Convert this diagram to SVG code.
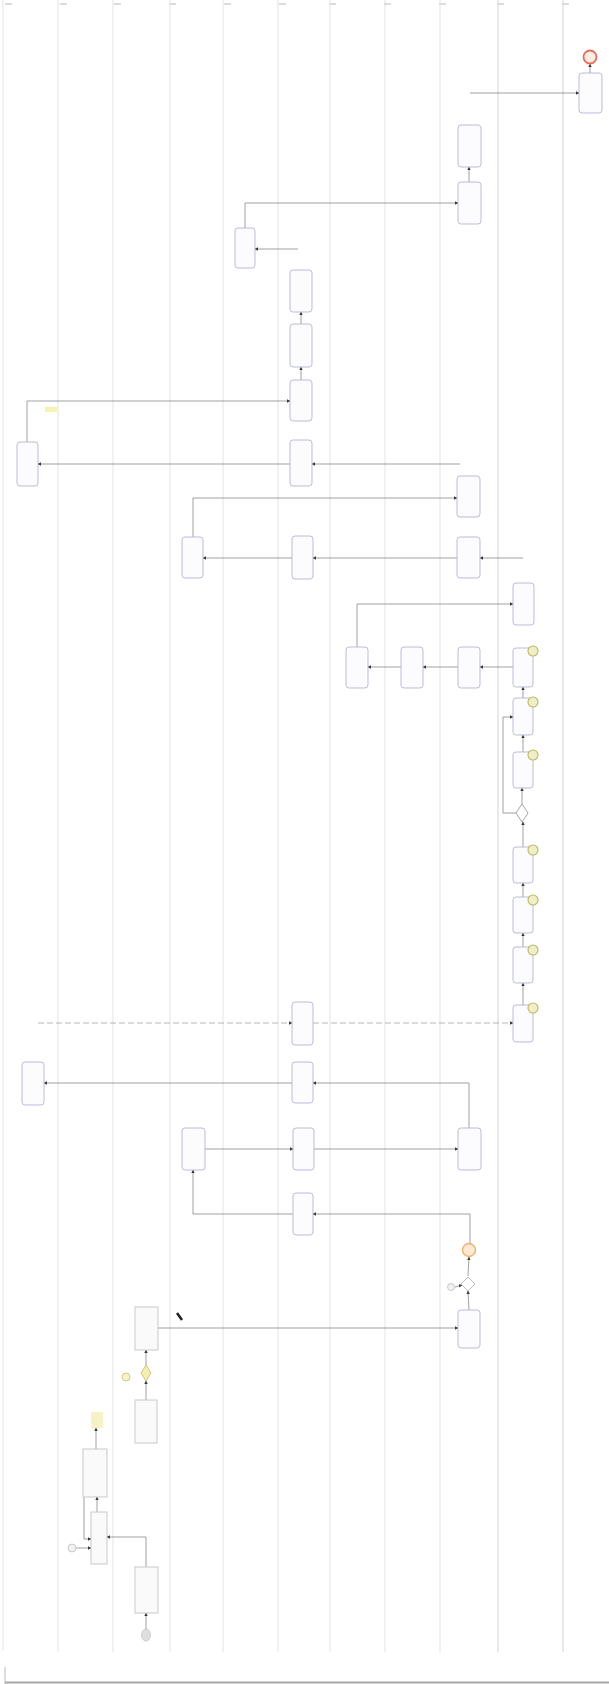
<svg xmlns="http://www.w3.org/2000/svg" width="609" height="1684" viewBox="0 0 609 1684">
<style>
.lane{stroke:#e3e3e8;stroke-width:1;fill:none}
.lane2{stroke:#d2d3da;stroke-width:1;fill:none}
.task{fill:#fcfcfe;stroke:#b3b5d2;stroke-width:0.9}
.gtask{fill:#fafafa;stroke:#c4c4c4;stroke-width:0.9}
.flow{fill:none;stroke:#7a7a7a;stroke-width:0.7;marker-end:url(#arr)}
.dash{fill:none;stroke:#9a9a9a;stroke-width:0.7;stroke-dasharray:6 3;marker-end:url(#arr)}
.bnd{fill:#eeedcc;stroke:#bdb85a;stroke-width:1.1}
.tick{fill:#dcdcdc}
</style>
<defs>
<marker id="arr" viewBox="0 0 10 10" refX="9" refY="5" markerWidth="5" markerHeight="5" orient="auto">
<path d="M0,0 L10,5 L0,10 z" fill="#3a3a3a"/>
</marker>
</defs>
<rect width="609" height="1684" fill="#ffffff"/>
<g id="lanes">
<line class="lane" x1="3" y1="0" x2="3" y2="1650"/>
<line class="lane" x1="58" y1="0" x2="58" y2="1652"/>
<line class="lane" x1="113" y1="0" x2="113" y2="1652"/>
<line class="lane" x1="170" y1="0" x2="170" y2="1652"/>
<line class="lane" x1="223" y1="0" x2="223" y2="1652"/>
<line class="lane" x1="278" y1="0" x2="278" y2="1652"/>
<line class="lane" x1="330" y1="0" x2="330" y2="1652"/>
<line class="lane" x1="385" y1="0" x2="385" y2="1652"/>
<line class="lane" x1="440" y1="0" x2="440" y2="1652"/>
<line class="lane2" x1="498" y1="0" x2="498" y2="1652"/>
<line class="lane2" x1="563" y1="0" x2="563" y2="1652"/>
<rect class="tick" x="5" y="3" width="7" height="2"/>
<rect class="tick" x="60" y="3" width="7" height="2"/>
<rect class="tick" x="114" y="3" width="7" height="2"/>
<rect class="tick" x="169" y="3" width="7" height="2"/>
<rect class="tick" x="224" y="3" width="7" height="2"/>
<rect class="tick" x="279" y="3" width="7" height="2"/>
<rect class="tick" x="329" y="3" width="7" height="2"/>
<rect class="tick" x="384" y="3" width="7" height="2"/>
<rect class="tick" x="439" y="3" width="7" height="2"/>
<rect class="tick" x="497" y="3" width="7" height="2"/>
<rect class="tick" x="562" y="3" width="7" height="2"/>
<line x1="5" y1="1667" x2="5" y2="1684" stroke="#bbbbbb" stroke-width="1"/>
<line x1="5" y1="1682.5" x2="609" y2="1682.5" stroke="#a8a8a8" stroke-width="2"/>
</g>
<g id="connectors">
<path class="flow" d="M590,73 L590,64"/>
<path class="flow" d="M470,93 L579,93"/>
<path class="flow" d="M469,182 L469,167"/>
<path class="flow" d="M245,228 L245,203 L458,203"/>
<path class="flow" d="M298,249 L255,249"/>
<path class="flow" d="M301,324 L301,312"/>
<path class="flow" d="M301,380 L301,367"/>
<path class="flow" d="M27,442 L27,401 L290,401"/>
<path class="flow" d="M460,464 L312,464"/>
<path class="flow" d="M290,464 L38,464"/>
<path class="flow" d="M193,537 L193,498 L457,498"/>
<path class="flow" d="M523,558 L480,558"/>
<path class="flow" d="M457,558 L313,558"/>
<path class="flow" d="M292,558 L203,558"/>
<path class="flow" d="M357,647 L357,604 L513,604"/>
<path class="flow" d="M401,667 L368,667"/>
<path class="flow" d="M458,667 L423,667"/>
<path class="flow" d="M513,667 L480,667"/>
<path class="flow" d="M523,698 L523,687"/>
<path class="flow" d="M523,752 L523,735"/>
<path class="flow" d="M522,804 L522,788"/>
<path class="flow" d="M516,813 L503,813 L503,717 L513,717"/>
<path class="flow" d="M523,847 L523,822"/>
<path class="flow" d="M523,897 L523,883"/>
<path class="flow" d="M523,947 L523,933"/>
<path class="flow" d="M523,1005 L523,983"/>
<path class="dash" d="M38,1023 L292,1023"/>
<path class="dash" d="M313,1023 L513,1023"/>
<path class="flow" d="M469,1128 L469,1083 L313,1083"/>
<path class="flow" d="M292,1083 L44,1083"/>
<path class="flow" d="M205,1149 L293,1149"/>
<path class="flow" d="M314,1149 L458,1149"/>
<path class="flow" d="M293,1214 L193,1214 L193,1170"/>
<path class="flow" d="M470,1244 L470,1214 L313,1214"/>
<path class="flow" d="M468,1276 L469,1257"/>
<path class="flow" d="M469,1310 L468,1291"/>
<path class="flow" d="M455,1287 L462,1285"/>
<path class="flow" d="M158,1328 L458,1328"/>
<path class="flow" d="M146,1365 L146,1350"/>
<path class="flow" d="M146,1400 L146,1381"/>
<path class="flow" d="M96,1449 L96,1428"/>
<path class="flow" d="M97,1512 L97,1497"/>
<path class="flow" d="M84,1497 L84,1539 L91,1539"/>
<path class="flow" d="M76,1548 L91,1548"/>
<path class="flow" d="M146,1567 L146,1537 L107,1537"/>
<path class="flow" d="M146,1629 L146,1613"/>
</g>
<g id="end_event"><circle cx="590" cy="57" r="6.5" fill="#fdeae4" stroke="#e0705c" stroke-width="1.8"/></g>
<g id="task_end"><rect class="task" x="579" y="73" width="23" height="40" rx="3"/></g>
<g id="task_a"><rect class="task" x="458" y="125" width="23" height="42" rx="3"/></g>
<g id="task_b"><rect class="task" x="458" y="182" width="23" height="42" rx="3"/></g>
<g id="task_c"><rect class="task" x="235" y="228" width="20" height="40" rx="3"/></g>
<g id="task_d"><rect class="task" x="290" y="270" width="22" height="42" rx="3"/></g>
<g id="task_e"><rect class="task" x="290" y="324" width="22" height="43" rx="3"/></g>
<g id="task_f"><rect class="task" x="290" y="380" width="22" height="41" rx="3"/></g>
<g id="task_g"><rect class="task" x="290" y="440" width="22" height="46" rx="3"/></g>
<g id="task_h"><rect class="task" x="17" y="442" width="21" height="44" rx="3"/><rect x="45" y="407" width="12" height="5" fill="#f6f2b2"/></g>
<g id="task_i"><rect class="task" x="457" y="476" width="23" height="41" rx="3"/></g>
<g id="task_j"><rect class="task" x="182" y="537" width="21" height="41" rx="3"/></g>
<g id="task_k"><rect class="task" x="292" y="536" width="21" height="43" rx="3"/></g>
<g id="task_l"><rect class="task" x="457" y="537" width="23" height="41" rx="3"/></g>
<g id="task_m"><rect class="task" x="513" y="583" width="21" height="42" rx="3"/></g>
<g id="task_n"><rect class="task" x="346" y="647" width="22" height="41" rx="3"/></g>
<g id="task_o"><rect class="task" x="401" y="647" width="22" height="41" rx="3"/></g>
<g id="task_p"><rect class="task" x="458" y="647" width="22" height="41" rx="3"/></g>
<g id="task_q"><rect class="task" x="513" y="648" width="20" height="39" rx="3"/><circle class="bnd" cx="533" cy="651" r="5"/></g>
<g id="task_r"><rect class="task" x="513" y="698" width="20" height="37" rx="3"/><circle class="bnd" cx="533" cy="702" r="5"/></g>
<g id="task_s"><rect class="task" x="513" y="752" width="20" height="36" rx="3"/><circle class="bnd" cx="533" cy="755" r="5"/></g>
<g id="gateway_1"><polygon points="522,804 528,813 522,822 516,813" fill="#ffffff" stroke="#9a9a9a" stroke-width="0.9"/></g>
<g id="task_t"><rect class="task" x="513" y="847" width="20" height="36" rx="3"/><circle class="bnd" cx="533" cy="850" r="5"/></g>
<g id="task_u"><rect class="task" x="513" y="897" width="20" height="36" rx="3"/><circle class="bnd" cx="533" cy="900" r="5"/></g>
<g id="task_v"><rect class="task" x="513" y="947" width="20" height="36" rx="3"/><circle class="bnd" cx="533" cy="950" r="5"/></g>
<g id="task_w"><rect class="task" x="513" y="1005" width="20" height="37" rx="3"/><circle class="bnd" cx="533" cy="1008" r="5"/></g>
<g id="task_x"><rect class="task" x="292" y="1002" width="21" height="43" rx="3"/></g>
<g id="task_y"><rect class="task" x="292" y="1062" width="21" height="41" rx="3"/></g>
<g id="task_ae"><rect class="task" x="22" y="1062" width="22" height="43" rx="3"/></g>
<g id="task_af"><rect class="task" x="182" y="1128" width="23" height="42" rx="3"/></g>
<g id="task_aa"><rect class="task" x="293" y="1128" width="21" height="42" rx="3"/></g>
<g id="task_z"><rect class="task" x="458" y="1128" width="23" height="42" rx="3"/></g>
<g id="task_ab"><rect class="task" x="293" y="1193" width="20" height="42" rx="3"/></g>
<g id="event_orange"><circle cx="469" cy="1250" r="6.5" fill="#fde9d2" stroke="#eeb070" stroke-width="1.4"/></g>
<g id="gateway_2"><polygon points="468,1277 475,1284 468,1291 461,1284" fill="#ffffff" stroke="#b5b5b5" stroke-width="0.9"/><circle cx="451" cy="1287" r="3.5" fill="#f2f2f2" stroke="#bcbcbc" stroke-width="0.8"/></g>
<g id="task_ac"><rect class="task" x="458" y="1310" width="22" height="38" rx="3"/></g>
<g id="task_ag"><rect class="gtask" x="135" y="1307" width="23" height="43"/><path d="M177,1313 L182,1320" stroke="#222" stroke-width="2.5"/></g>
<g id="gateway_3"><polygon points="146,1365 151,1373 146,1381 141,1373" fill="#f3efb4" stroke="#c7c070" stroke-width="0.9"/><circle cx="126" cy="1377" r="4" fill="#f6f3c4" stroke="#c7c070" stroke-width="0.8"/></g>
<g id="task_ah"><rect class="gtask" x="135" y="1400" width="22" height="43"/></g>
<g id="note_yellow"><rect x="91" y="1412" width="12" height="16" fill="#f5f3c6"/></g>
<g id="task_ai"><rect class="gtask" x="83" y="1449" width="24" height="48"/></g>
<g id="task_aj"><rect class="gtask" x="91" y="1512" width="16" height="52"/></g>
<g id="event_small"><circle cx="72" cy="1548" r="4" fill="#f2f2f2" stroke="#c0c0c0" stroke-width="0.8"/></g>
<g id="task_ak"><rect class="gtask" x="135" y="1567" width="23" height="46"/></g>
<g id="start_event"><ellipse cx="146" cy="1635" rx="4.5" ry="6" fill="#dedede" stroke="#c4c4c4" stroke-width="0.8"/></g>
</svg>
